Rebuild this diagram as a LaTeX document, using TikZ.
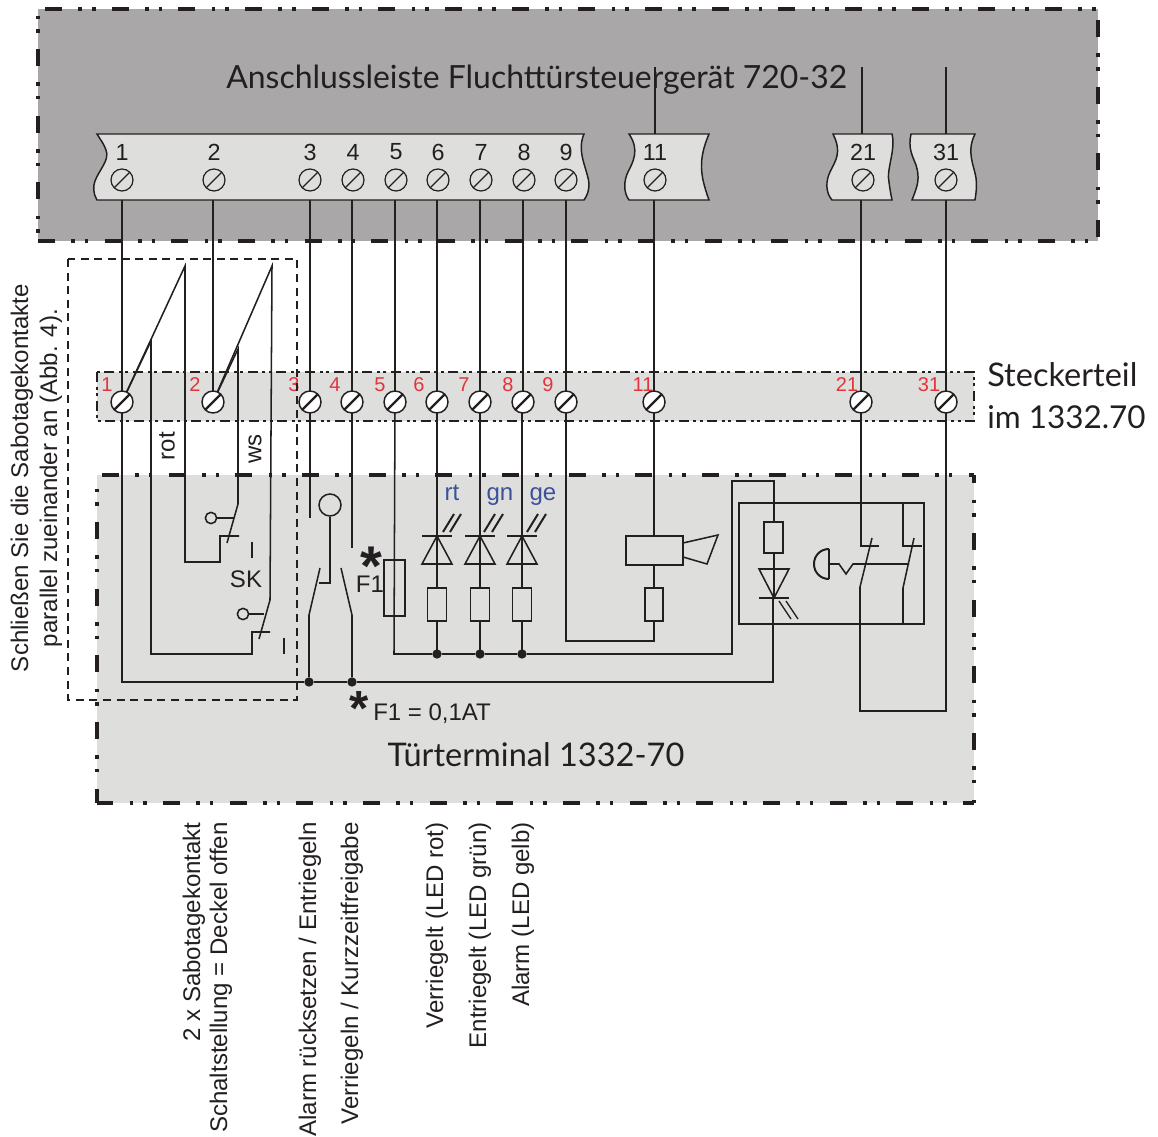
\documentclass[tikz,border=0pt]{standalone}
\usepackage{fontspec}
\setmainfont{Liberation Sans}
\newfontfamily\gill{Lato}
\definecolor{darkbox}{HTML}{A9A7A8}
\definecolor{lightbox}{HTML}{DEDEDD}
\definecolor{ink}{HTML}{231F20}
\definecolor{termred}{HTML}{E2343A}
\definecolor{ledblue}{HTML}{3B5199}
\tikzset{
  wire/.style={draw=ink,line width=1.15pt,line join=miter},
  bigh/.style={draw=ink,line width=2.6pt,dash pattern=on 12.75pt off 12.3pt on 2.6pt off 7.6pt on 2.6pt off 12.15pt},
  bigv/.style={draw=ink,line width=3pt,dash pattern=on 12.75pt off 12.3pt on 2.6pt off 7.6pt on 2.6pt off 12.15pt},
  midborder/.style={draw=ink,line width=2.2pt,dash pattern=on 7.5pt off 3.5pt on 2.2pt off 2.6pt on 2.2pt off 3.5pt},
  screwA/.style={circle,draw=ink,line width=.9pt,minimum size=16.5pt,inner sep=0pt,
    path picture={\draw[ink,line width=.9pt] (path picture bounding box.south west)--(path picture bounding box.north east);}},
  screwB/.style={circle,draw=ink,fill=white,line width=1.1pt,minimum size=16.5pt,inner sep=0pt,
    path picture={\draw[ink,line width=1.6pt] (path picture bounding box.south west)--(path picture bounding box.north east);}},
  termblock/.style={fill=lightbox,draw=ink,line width=1.1pt},
  termno/.style={font=\fontsize{17.5}{20}\selectfont,text=ink,inner sep=0pt},
  redno/.style={font=\fontsize{15}{17}\selectfont,text=termred,inner sep=0pt},
  bluelab/.style={font=\fontsize{18}{20}\selectfont,text=ledblue,inner sep=0pt,anchor=base},
  blocklab/.style={font=\gill\fontsize{24.4}{30}\selectfont,text=ink,inner sep=0pt},
  vtext/.style={font=\fontsize{18.05}{20}\selectfont,text=ink,inner sep=0pt,rotate=90,anchor=east},
  plain/.style={font=\fontsize{18}{20}\selectfont,text=ink,inner sep=0pt},
  part/.style={draw=ink,line width=1.15pt},
  dot/.style={circle,fill=ink,inner sep=0pt,minimum size=7pt},
  ray/.style={draw=ink,line width=1.5pt},
  starlab/.style={font=\bfseries,text=ink,inner sep=0pt},
}
\newcommand{\inkstar}[1]{{\fontsize{#1}{#1}\selectfont\raisebox{-0.42em}[0.3em][0em]{*}}}
\begin{document}
\begin{tikzpicture}[x=0.75pt,y=-0.75pt]
\useasboundingbox (0,0) rectangle (1158,1137);
% panels
\fill[darkbox] (38,9) rectangle (1098,241);
\coordinate (ua) at (38,9);\coordinate (ub) at (1098,9);\coordinate (uc) at (1098,241);\coordinate (ud) at (38,241);
\draw[bigh,dash phase=44.7pt] (ua)--(ub);
\draw[bigv,dash phase=41.7pt] (ub)--(uc);
\draw[bigh,dash phase=0pt] (ud)--(uc);
\draw[bigv,dash phase=20pt] (ua)--(ud);
\fill[lightbox] (97,372) rectangle (974,421);
\fill[lightbox] (97,475) rectangle (974,803);
\coordinate (la) at (97,475);\coordinate (lb) at (974,475);\coordinate (lc) at (974,803);\coordinate (ld) at (97,803);
\draw[bigh,dash phase=46.25pt] (la)--(lb);
\draw[bigv,dash phase=6.5pt] (lb)--(lc);
\draw[bigh,dash phase=0.5pt] (ld)--(lc);
\draw[bigv,dash phase=14.75pt] (la)--(ld);
\draw[midborder] (97,372) rectangle (974,421);
\node[blocklab,font=\gill\fontsize{23.95}{30}\selectfont,anchor=base west] (title) at (226,89) {Anschlussleiste Fluchttürsteuergerät 720-32};
% terminal blocks
\path[termblock] (97,134) -- (584,134) .. controls (576,152) and (588,170) .. (589,184) .. controls (589,191) and (587,196) .. (584,200) -- (97,200) .. controls (93,194) and (93,186) .. (95,181) .. controls (99,170) and (110,160) .. (106,150) .. controls (104,144) and (100,139) .. (97,134) -- cycle;
\path[termblock] (629,134) -- (709,134) .. controls (698,160) and (700,175) .. (709,200) -- (629,200) .. controls (623,192) and (624,180) .. (628,172) .. controls (633,162) and (640,150) .. (629,134) -- cycle;
\path[termblock] (833,134) -- (892,134) .. controls (896,150) and (886,170) .. (889,182) .. controls (890,190) and (891,195) .. (892,200) -- (832,200) .. controls (825,192) and (826,180) .. (830,172) .. controls (836,160) and (842,152) .. (833,134) -- cycle;
\path[termblock] (911,134) -- (975,134) .. controls (966,152) and (974,165) .. (976,178) .. controls (977,187) and (976,194) .. (975,200) -- (912,200) .. controls (918,185) and (920,178) .. (916,165) .. controls (912,155) and (908,148) .. (911,134) -- cycle;
% top screws and numbers
\foreach \n/\x in {1/122,2/214,3/310,4/353,5/396,6/438,7/481,8/524,9/566,11/655,21/863,31/946}{
  \node[screwA] (t\n) at (\x,180) {};
  \node[termno] (tn\n) at (\x,152) {\n};
}
% lower screws positions (nodes placed after the wires)
\foreach \n/\x in {1/122,2/213,3/310,4/352,5/395,6/437,7/480,8/523,9/566,11/654,21/861,31/946}{
  \coordinate (sc\n) at (\x,402);
}
\foreach \n/\x in {11/655,21/862,31/946}{\coordinate (up\n) at (\x,67);\coordinate (tt\n) at (\x,134);}
\draw[wire] (up11)--(tt11);\draw[wire] (up21)--(tt21);\draw[wire] (up31)--(tt31);
% wires from upper strip to connector strip
\foreach \n in {1,2,3,4,5,6,7,8,9,11,21,31}{
  \draw[wire] (sc\n |- 0,200) -- (sc\n);
}
% wire 1 / tamper contacts
\coordinate (a1) at (185,266);\coordinate (a2) at (185,562);\coordinate (a3) at (220,562);\coordinate (a4) at (220,536);\coordinate (a5) at (239,536);
\draw[wire] (sc1)--(a1)--(a2)--(a3)--(a4)--(a5);
\coordinate (b1) at (238,349);\coordinate (b2) at (238,504);\coordinate (b3) at (227,543);
\draw[wire] (sc2)--(b1)--(b2)--(b3);
\coordinate (c1) at (272,266);\coordinate (c2) at (270,600);\coordinate (c3) at (259,639);
\draw[wire] (sc2)--(c1)--(c2)--(c3);
\coordinate (d1) at (151,341);\coordinate (d2) at (151,654);\coordinate (d3) at (252,654);\coordinate (d4) at (252,632);\coordinate (d5) at (270,632);
\draw[wire] (sc1)--(d1)--(d2)--(d3)--(d4)--(d5);
\node[circle,part,inner sep=0pt,minimum size=8.5pt] (k1) at (211,518) {};
\node[circle,part,inner sep=0pt,minimum size=8.5pt] (k2) at (243,614) {};
\coordinate (k1e) at (234,518);\coordinate (k2e) at (264,614);
\draw[wire] (k1)--(k1e);\draw[wire] (k2)--(k2e);
\coordinate (i1a) at (252,542);\coordinate (i1b) at (252,558);\coordinate (i2a) at (284,638);\coordinate (i2b) at (284,654);
\draw[wire] (i1a)--(i1b);\draw[wire] (i2a)--(i2b);
\node[plain] (sk) at (246,579) {SK};
\node[plain,rotate=90] (rot) at (167,446) {rot};
\node[plain,rotate=90] (ws) at (255,449) {ws};
% common rail, contacts 3 and 4
\node[dot] (j3) at (309,682) {};
\node[dot] (j4) at (352,682) {};
\coordinate (m1) at (122,682);\coordinate (m2) at (773,682);\coordinate (m3) at (773,598);
\draw[wire] (sc1)--(m1)--(j3)--(j4)--(m2)--(m3);
\coordinate (w3) at (309,518);\coordinate (w4) at (352,548);
\draw[wire] (sc3 |- w3) -- (sc3);
\draw[wire] (sc4)--(w4);
\node[circle,part,inner sep=0pt,minimum size=16.5pt] (relc) at (330,505) {};
\coordinate (r1) at (330,583);\coordinate (r2) at (319,583);
\draw[wire] (relc)--(r1)--(r2);
\coordinate (e1) at (309,615);\coordinate (e2) at (320,568);\coordinate (f1) at (352,615);\coordinate (f2) at (341,568);
\draw[wire] (j3)--(e1)--(e2);
\draw[wire] (j4)--(f1)--(f2);
\node[starlab] (star1) at (371,554) {\inkstar{42}};
\node[plain] (f1lab) at (370,584) {F1};
% fuse and wire 5
\coordinate (n5) at (394,654);\coordinate (n6) at (732,654);\coordinate (n7) at (732,481);\coordinate (n8) at (774,481);\coordinate (n9) at (774,522);
\node[dot] (j6) at (437,654) {};
\node[dot] (j7) at (480,654) {};
\node[dot] (j8) at (522,654) {};
\draw[wire] (sc5)--(n5)--(j6)--(j7)--(j8)--(n6)--(n7)--(n8)--(n9);
\draw[part] (384,560) rectangle (405,616);
% LEDs
\foreach \n/\x/\r/\s in {6/437/443/450,7/480/484/492,8/522/527/535}{
  \draw[wire] (\x,402)--(\x,654);
  \draw[part] (\x-15,536)--(\x+15,536);
  \draw[part] (\x,536)--(\x-15,564)--(\x+15,564)--cycle;
  \draw[part,fill=lightbox] (\x-9.5,588) rectangle (\x+9.5,621);
  \draw[ray] (\r,532)--(\r+11,514);
  \draw[ray] (\s,532)--(\s+11,514);
}
\node[bluelab] (rt) at (452,501) {rt};
\node[bluelab] (gn) at (500,501) {gn};
\node[bluelab] (ge) at (543,501) {ge};
% horn
\coordinate (h1) at (654,641);\coordinate (h2) at (566,641);
\draw[wire] (sc11)--(h1)--(h2)--(sc9);
\draw[part,fill=lightbox] (626,536) rectangle (683,565);
\draw[part,fill=lightbox] (645,588) rectangle (663,621);
\draw[part] (683,543)--(718,535)--(707,564)--(683,557);
% door-contact group
\draw[part] (739,503) rectangle (924,624);
\draw[wire] (774,481)--(774,522);
\draw[part,fill=lightbox] (764,522) rectangle (783,553);
\draw[wire] (774,553)--(774,598);
\draw[part] (759,569)--(789,569)--(774,598)--cycle;
\draw[part] (759,598)--(789,598);
\draw[ray,line width=1pt] (779,601)--(791,619);
\draw[ray,line width=1pt] (786,601)--(798,619);
% contacts 21, 31
\coordinate (g1) at (861,546);\coordinate (g2) at (879,546);
\draw[wire] (sc21)--(g1)--(g2);
\coordinate (g3) at (872,538);\coordinate (g4) at (860,587);\coordinate (g5) at (860,711);\coordinate (g6) at (946,711);
\draw[wire] (g3)--(g4)--(g5)--(g6)--(sc31);
\draw[wire] (903,503)--(903,546)--(922,546);
\draw[wire] (914,538)--(903,588)--(903,624);
\draw[part,line width=1.5pt] (829,549) .. controls (820,549) and (814,556) .. (814,564) .. controls (814,572) and (820,579) .. (829,579);
\draw[wire] (829,549)--(829,579);
\draw[wire] (829,564)--(839,564)--(846,574)--(853,564)--(909,564);
% lower screws on top
\foreach \n in {1,2,3,4,5,6,7,8,9,11,21,31}{ \node[screwB] (s\n) at (sc\n) {}; }
% red numbers
\foreach \n/\x in {1/107,2/195,3/294,4/335,5/380,6/419,7/464,8/508,9/548,11/643,21/847,31/929}{
  \node[redno] (rn\n) at (\x,385) {\n};
}
% dashed group
\draw[ink,line width=1.4pt,dash pattern=on 6pt off 4.2pt] (68,259) rectangle (297,700);
% texts
\node[blocklab,anchor=base west] (st1) at (987,387) {Steckerteil};
\node[blocklab,font=\gill\fontsize{23.6}{30}\selectfont,anchor=base west] (st2) at (987,429) {im 1332.70};
\node[starlab] (star2) at (359,697) {\inkstar{37}};
\node[plain,anchor=west] (f1eq) at (373,714) {F1 = 0,1AT};
\node[font=\gill\fontsize{24.4}{30}\selectfont,text=ink,inner sep=0pt] (tt) at (536,755) {Türterminal 1332-70};
\node[vtext] (v1) at (194,822) {2 x Sabotagekontakt};
\node[vtext] (v2) at (221,822) {Schaltstellung = Deckel offen};
\node[vtext] (v3) at (310,822) {Alarm rücksetzen / Entriegeln};
\node[vtext] (v4) at (352,822) {Verriegeln / Kurzzeitfreigabe};
\node[vtext] (v5) at (437,822) {Verriegelt (LED rot)};
\node[vtext] (v6) at (480,822) {Entriegelt (LED grün)};
\node[vtext] (v7) at (523,822) {Alarm (LED gelb)};
\node[vtext,anchor=center] (l1) at (22,478) {Schließen Sie die Sabotagekontakte};
\node[vtext,anchor=center] (l2) at (51,478) {parallel zueinander an (Abb. 4).};
\end{tikzpicture}
\end{document}
